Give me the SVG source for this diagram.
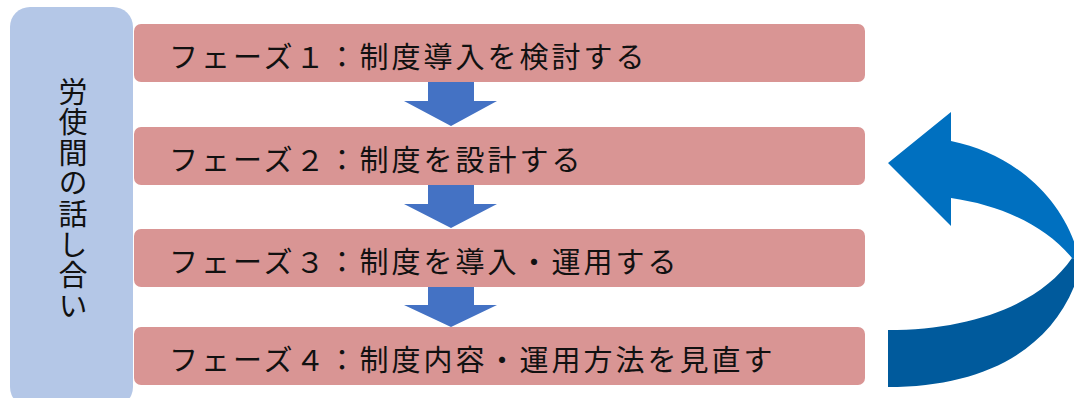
<svg xmlns="http://www.w3.org/2000/svg" width="1074" height="398" viewBox="0 0 1074 398">
<style>
.phase{fill:#D99594;}
.lbl{font-family:"Noto Sans CJK JP","Noto Sans CJK SC",sans-serif;font-size:29px;fill:#111;letter-spacing:3px;dominant-baseline:central;}
.down{fill:#4472C4;}
</style>
<rect width="1074" height="398" fill="#FFFFFF"/>
<g id="side">
<rect x="10" y="7" width="123" height="400" rx="20" fill="#B4C7E7"/>
<text x="73" y="77" class="lbl" style="writing-mode:vertical-rl;letter-spacing:1.6px;dominant-baseline:auto">労使間の話し合い</text>
</g>
<g id="phase1"><rect class="phase" x="134" y="24" width="731" height="58" rx="7"/><text class="lbl" x="169" y="55">フェーズ１：制度導入を検討する</text></g>
<g id="phase2"><rect class="phase" x="134" y="127" width="731" height="58" rx="7"/><text class="lbl" x="169" y="158">フェーズ２：制度を設計する</text></g>
<g id="phase3"><rect class="phase" x="134" y="229" width="731" height="58" rx="7"/><text class="lbl" x="169" y="260">フェーズ３：制度を導入・運用する</text></g>
<g id="phase4"><rect class="phase" x="134" y="327" width="731" height="58" rx="7"/><text class="lbl" x="169" y="358">フェーズ４：制度内容・運用方法を見直す</text></g>
<g id="connectors">
<path class="down" d="M428,82 H474 V101 H497 L451,126 L404,101 H428 Z"/>
<path class="down" d="M428,185 H474 V204 H497 L451,228 L404,204 H428 Z"/>
<path class="down" d="M428,287 H474 V305 H497 L451,327 L404,305 H428 Z"/>
<g id="cycle">
<path fill="#0070C0" d="M951,112 L888,163 L951,226 V198 C1000,205 1045,225 1072,258 L1080,262 C1068,205 1020,155 951,141 Z"/>
<path fill="#005A9C" d="M1072,258 C1040,305 970,330 888,330 V387 C990,387 1062,345 1082,262 Z"/>
</g>
</g>
</svg>
